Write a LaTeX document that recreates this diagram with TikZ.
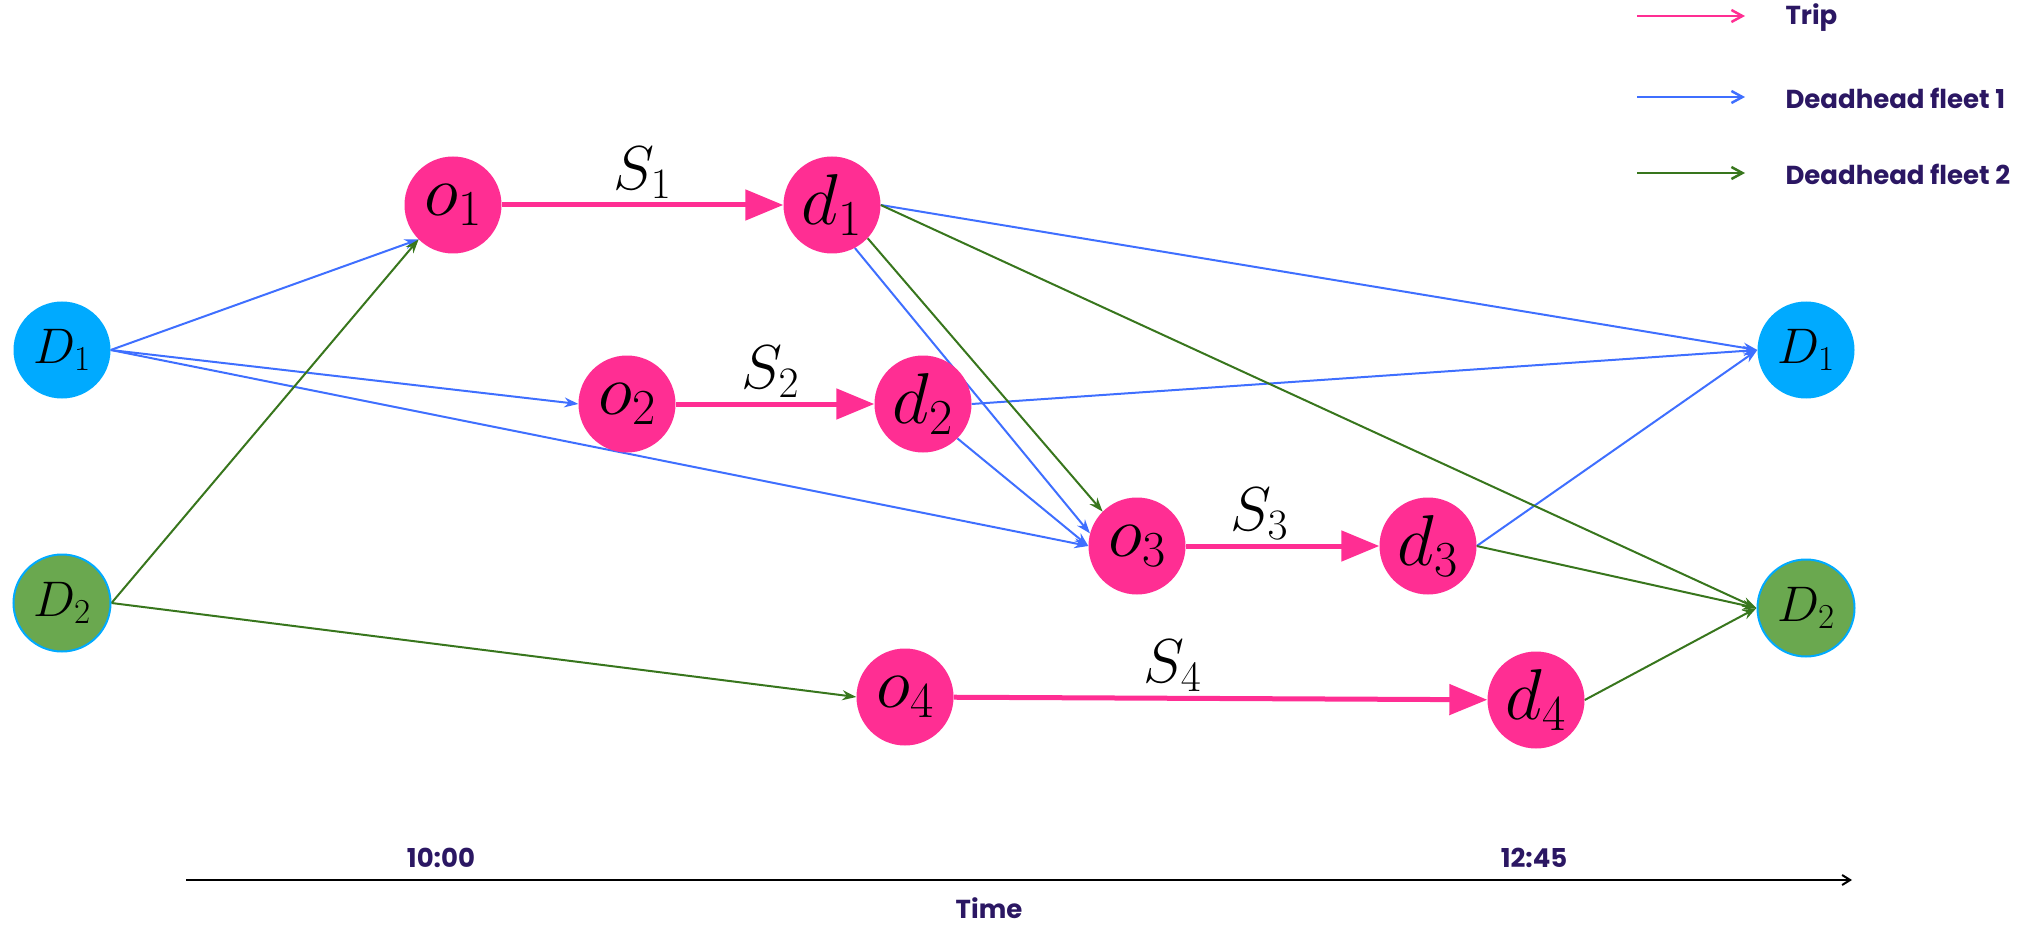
\documentclass[tikz,border=0pt]{standalone}
\usepackage{fix-cm}
\usepackage{fontspec}
\newfontfamily\poppins{Poppins}
\usetikzlibrary{arrows.meta,backgrounds}
\definecolor{tripc}{HTML}{FF2E93}
\definecolor{depblue}{HTML}{00AAFF}
\definecolor{depgreen}{HTML}{6AA84F}
\definecolor{dhblue}{HTML}{3F6FFF}
\definecolor{dhgreen}{HTML}{38761D}
\definecolor{txtpurple}{HTML}{2B1763}

\begin{document}
\begin{tikzpicture}[
x=1pt, y=-1pt,
stopnode/.style={
circle,
fill=tripc,
minimum size=97pt,
inner sep=0pt,
font=\fontsize{72}{78}\selectfont
},
depotone/.style={
circle,
fill=depblue,
minimum size=97pt,
inner sep=0pt,
font=\fontsize{50}{56}\selectfont
},
depottwo/.style={depotone, fill=depgreen, draw=depblue, line width=2pt},
trip/.style={draw=tripc, line width=5pt, -{Triangle[length=38pt,width=30pt]}},
triplabel/.style={above=4pt, inner sep=0pt, font=\fontsize{62}{68}\selectfont},
dhone/.style={draw=dhblue, line width=2pt, -{Stealth[length=14pt,width=10pt]}},
dhtwo/.style={draw=dhgreen, line width=2pt, -{Stealth[length=14pt,width=10pt]}},
legarrow/.style={line width=2.5pt, -{Straight Barb[length=11pt,width=12pt]}},
legtext/.style={anchor=west, text=txtpurple, font=\poppins\bfseries\fontsize{26}{30}\selectfont}
]

\useasboundingbox (0,0) rectangle (2035,925);

\node[depotone] (D1l) at (62,350) {$D_1$};
\node[depottwo] (D2l) at (62,603) {$D_2$};

\node[stopnode] (o1) at (453,205) {$o_1$};
\node[stopnode] (d1) at (832,205) {$d_1$};
\node[stopnode] (o2) at (627,404) {$o_2$};
\node[stopnode] (d2) at (923,404) {$d_2$};
\node[stopnode] (o3) at (1137,546) {$o_3$};
\node[stopnode] (d3) at (1428,546) {$d_3$};
\node[stopnode] (o4) at (905,697) {$o_4$};
\node[stopnode] (d4) at (1536,700) {$d_4$};

\node[depotone] (D1r) at (1806,350) {$D_1$};
\node[depottwo] (D2r) at (1806,608) {$D_2$};

\draw[trip] (o1) -- node[triplabel, pos=0.5] (S1) {$S_1$} (d1);
\draw[trip] (o2) -- node[triplabel, pos=0.475] (S2) {$S_2$} (d2);
\draw[trip] (o3) -- node[triplabel, pos=0.38] (S3) {$S_3$} (d3);
\draw[trip] (o4) -- node[triplabel, pos=0.41] (S4) {$S_4$} (d4);

\begin{scope}[on background layer]
\draw[dhone] (D1l.east) -- (o1.south west);
\draw[dhone] (D1l.east) -- (o2.west);
\draw[dhone] (D1l.east) -- (o3.west);
\draw[dhone] (d1.-62) -- (o3.165);
\draw[dhone] (d1.east) -- (D1r.west);
\draw[dhone] (d2.south east) -- (o3.west);
\draw[dhone] (d2.east) -- (D1r.west);
\draw[dhone] (d3.east) -- (D1r.west);

\draw[dhtwo] (D2l.east) -- (o1.south west);
\draw[dhtwo] (D2l.east) -- (o4.west);
\draw[dhtwo] (d1.-43) -- (o3.north west);
\draw[dhtwo] (d1.east) -- (D2r.west);
\draw[dhtwo] (d3.east) -- (D2r.west);
\draw[dhtwo] (d4.east) -- (D2r.west);
\end{scope}

\coordinate (tl) at (186,880);
\coordinate (tr) at (1852,880);
\draw[line width=2pt, -{Straight Barb[length=8pt,width=10pt]}] (tl) -- (tr);
\node[text=txtpurple, font=\poppins\bfseries\fontsize{26}{30}\selectfont] (t1) at (441,858) {10:00};
\node[text=txtpurple, font=\poppins\bfseries\fontsize{26}{30}\selectfont] (t2) at (1534,858) {12:45};
\node[text=txtpurple, font=\poppins\bfseries\fontsize{26}{30}\selectfont] (time) at (989,908) {Time};

\coordinate (la1) at (1637,16);
\coordinate (lb1) at (1745,16);
\coordinate (la2) at (1637,97);
\coordinate (lb2) at (1745,97);
\coordinate (la3) at (1637,173);
\coordinate (lb3) at (1745,173);
\draw[legarrow, tripc] (la1) -- (lb1);
\draw[legarrow, dhblue] (la2) -- (lb2);
\draw[legarrow, dhgreen] (la3) -- (lb3);
\node[legtext] (ltrip) at (1782,18) {Trip};
\node[legtext] (lfleet1) at (1782,98) {Deadhead fleet 1};
\node[legtext] (lfleet2) at (1782,174) {Deadhead fleet 2};

\end{tikzpicture}
\end{document}
